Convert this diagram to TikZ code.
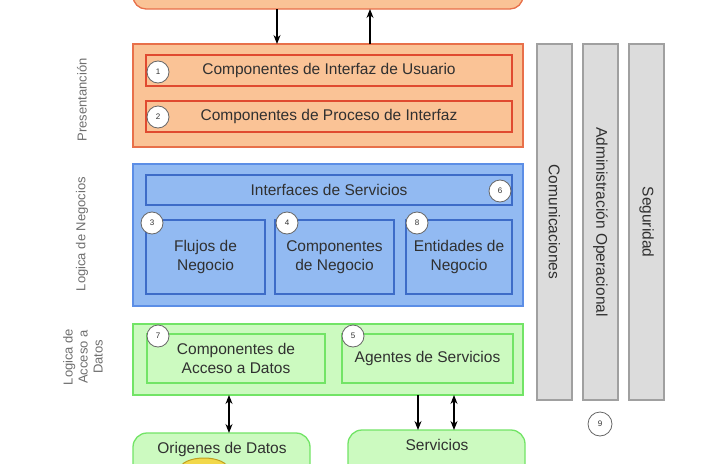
\documentclass[tikz,border=0pt]{standalone}
\usepackage{fontspec}
\setmainfont{Liberation Sans}
\usetikzlibrary{arrows.meta}
\definecolor{orfill}{HTML}{FAC396}
\definecolor{ordraw}{HTML}{E8704A}
\definecolor{orin}{HTML}{E04A30}
\definecolor{blfill}{HTML}{92BAF2}
\definecolor{bldraw}{HTML}{5C8EE6}
\definecolor{blin}{HTML}{3D6CC8}
\definecolor{grfill}{HTML}{CCFAC0}
\definecolor{grdraw}{HTML}{72E466}
\definecolor{gyfill}{HTML}{DCDCDC}
\definecolor{gydraw}{HTML}{A0A0A0}
\definecolor{txt}{HTML}{303030}
\definecolor{lbl}{HTML}{6E6E6E}
\definecolor{dbfill}{HTML}{F2D84A}
\definecolor{dbdraw}{HTML}{C0A020}
\begin{document}
\begin{tikzpicture}[x=1pt,y=-1pt,
  box/.style={anchor=north west, inner sep=0pt, outer sep=0pt, text=txt,
    font=\fontsize{15.5}{19}\selectfont, align=center},
  outer/.style={box, line width=1.3pt},
  inner/.style={box, line width=1.7pt},
  orbox/.style={outer, draw=ordraw, fill=orfill},
  orin/.style={inner, draw=orin},
  blbox/.style={outer, draw=bldraw, fill=blfill},
  blin/.style={inner, draw=blin},
  grbox/.style={outer, draw=grdraw, fill=grfill},
  grin/.style={inner, draw=grdraw},
  col/.style={box, draw=gydraw, fill=gyfill, line width=1.3pt},
  num/.style={circle, draw=gray!80!black, fill=white, line width=0.8pt,
    minimum size=22pt, inner sep=0pt, text=txt, font=\fontsize{8}{8}\selectfont},
  lay/.style={rotate=90, text=lbl, font=\fontsize{13}{15}\selectfont, align=center},
  arr/.style={line width=1.2pt, -{Stealth[length=9pt,width=7pt]}},
  darr/.style={line width=1.2pt, {Stealth[length=9pt,width=7pt]}-{Stealth[length=9pt,width=7pt]}}
]
\useasboundingbox (0,0) rectangle (717,463);
\clip (0,0) rectangle (717,463);

% top box
\node[orbox, rounded corners=13pt, minimum width=390pt, minimum height=50pt] (top) at (133,-41) {};

% Presentation layer
\node[orbox, minimum width=390pt, minimum height=103pt] (pres) at (133,44) {};
\node[orin, minimum width=366pt, minimum height=31pt] (ui) at (146,55) {Componentes de Interfaz de Usuario};
\node[orin, minimum width=366pt, minimum height=31pt] (uip) at (146,101) {Componentes de Proceso de Interfaz};
\node[num] (n1) at (158,72) {1};
\node[num] (n2) at (158,117) {2};

% Business layer
\node[blbox, minimum width=390pt, minimum height=142pt] (bus) at (133,164) {};
\node[blin, minimum width=366pt, minimum height=30pt] (si) at (146,175) {Interfaces de Servicios};
\node[blin, minimum width=119pt, minimum height=74pt] (bw) at (146,220) {Flujos de\\Negocio};
\node[blin, minimum width=119pt, minimum height=74pt] (bc) at (275,220) {Componentes\\de Negocio};
\node[blin, minimum width=106pt, minimum height=74pt] (be) at (406,220) {Entidades de\\Negocio};
\node[num] (n6) at (500,191) {6};
\node[num] (n3) at (152,223) {3};
\node[num] (n4) at (287,223) {4};
\node[num] (n8) at (417,223) {8};

% Data layer
\node[grbox, minimum width=390pt, minimum height=71pt] (dat) at (133,324) {};
\node[grin, minimum width=178pt, minimum height=49pt] (dac) at (147,334) {Componentes de\\Acceso a Datos};
\node[grin, minimum width=171pt, minimum height=49pt] (sa) at (342,334) {Agentes de Servicios};
\node[num] (n7) at (158,336) {7};
\node[num] (n5) at (353,336) {5};

% Bottom boxes
\node[grbox, rounded corners=14pt, minimum width=177pt, minimum height=70pt] (ds) at (133,433) {};
\node[text=txt, font=\fontsize{15.5}{19}\selectfont] (dst) at (222,449) {Origenes de Datos};
\draw[draw=dbdraw, fill=dbfill, line width=1pt] (204,469) ellipse [x radius=24pt, y radius=11pt];
\node[grbox, rounded corners=14pt, minimum width=177pt, minimum height=70pt] (sv) at (348,430) {};
\node[text=txt, font=\fontsize{15.5}{19}\selectfont] (svt) at (437,445) {Servicios};

% Crosscutting columns
\node[col, minimum width=35pt, minimum height=356pt] (c1) at (537,44) {};
\node[col, minimum width=35pt, minimum height=356pt] (c2) at (583,44) {};
\node[col, minimum width=35pt, minimum height=356pt] (c3) at (629,44) {};
\node[rotate=-90, text=txt, font=\fontsize{15.5}{19}\selectfont] at (c1.center) {Comunicaciones};
\node[rotate=-90, text=txt, font=\fontsize{15.5}{19}\selectfont] at (c2.center) {Administración Operacional};
\node[rotate=-90, text=txt, font=\fontsize{15.5}{19}\selectfont] at (c3.center) {Seguridad};
\node[num, minimum size=24pt] (n9) at (600,424) {9};

% Layer labels
\node[lay] (lp) at (82,100) {Presentanción};
\node[lay] (lb) at (82,234) {Logica de Negocios};
\node[lay] (ld) at (83,357) {Logica de\\Acceso a\\Datos};

% Connectors
\coordinate (xa) at (277,0);
\coordinate (xb) at (370,0);
\coordinate (xc) at (229,0);
\coordinate (xd) at (418,0);
\coordinate (xe) at (454,0);
\draw[arr] (top.south -| xa) -- (pres.north -| xa);
\draw[arr] (pres.north -| xb) -- (top.south -| xb);
\draw[darr] (dat.south -| xc) -- (ds.north -| xc);
\draw[arr] (dat.south -| xd) -- (sv.north -| xd);
\draw[darr] (dat.south -| xe) -- (sv.north -| xe);
\end{tikzpicture}
\end{document}
